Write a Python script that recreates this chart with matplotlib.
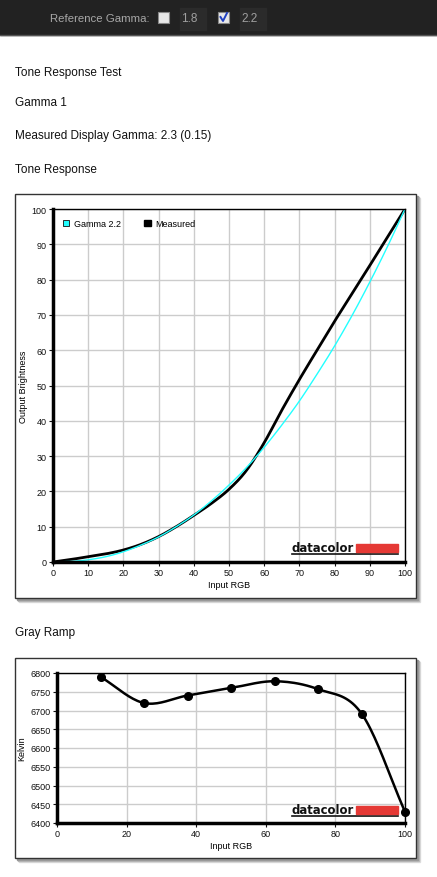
import numpy as np
import matplotlib
matplotlib.use("Agg")
import matplotlib.pyplot as plt
from matplotlib.patches import Rectangle, Patch
from matplotlib.lines import Line2D

W, H = 437, 878

# tone response data (input RGB %, output brightness %)
tone_x = [0, 5, 10, 15, 20, 25, 30, 35, 40, 45, 50,
          55, 60, 65, 70, 75, 80, 85, 90, 95, 100]
gamma22 = [0, 0.14, 0.63, 1.5, 2.9, 4.8, 7.1, 10.0, 13.3, 17.3, 21.8,
           26.8, 32.5, 38.8, 45.6, 53.2, 61.2, 69.9, 79.3, 89.3, 100]
measured = [0, 0.7, 1.5, 2.3, 3.4, 5.0, 7.2, 10.0, 13.2, 16.6, 20.6,
            26.0, 33.8, 43.0, 51.7, 60.0, 68.2, 76.1, 84.0, 92.0, 100]

# gray ramp data
ramp_x = [12.5, 25, 37.5, 50, 62.5, 75, 87.5, 100]
ramp_k = [6790, 6720, 6740, 6760, 6778, 6757, 6692, 6430]

tone_ticks = list(range(0, 101, 10))
ramp_xticks = list(range(0, 101, 20))
ramp_yticks = list(range(6400, 6801, 50))

plt.rcParams['font.family'] = ['Liberation Sans', 'DejaVu Sans']


def box(x0, y0, x1, y1):
    # pixel box -> figure fraction rect
    return [x0 / W, 1 - y1 / H, (x1 - x0) / W, (y1 - y0) / H]


def fx(x):
    return x / W


def fy(y):
    return 1 - y / H


def catmull(xs, ys, n=20):
    # smooth drawing path through the points
    xs = np.asarray(xs, float)
    ys = np.asarray(ys, float)
    px = np.concatenate([[2 * xs[0] - xs[1]], xs, [2 * xs[-1] - xs[-2]]])
    py = np.concatenate([[2 * ys[0] - ys[1]], ys, [2 * ys[-1] - ys[-2]]])
    ox, oy = [], []
    t = np.linspace(0, 1, n, endpoint=False)
    for i in range(1, len(px) - 2):
        for p, o in ((px, ox), (py, oy)):
            p0, p1, p2, p3 = p[i - 1], p[i], p[i + 1], p[i + 2]
            o.extend(0.5 * (2 * p1 + (-p0 + p2) * t
                            + (2 * p0 - 5 * p1 + 4 * p2 - p3) * t ** 2
                            + (-p0 + 3 * p1 - 3 * p2 + p3) * t ** 3))
    ox.append(xs[-1])
    oy.append(ys[-1])
    return np.array(ox), np.array(oy)


def logo(fig, x0, y0):
    # datacolor mark, x0/y0 = left / baseline in pixels
    fig.text(fx(x0), fy(y0), "datacolor", fontsize=8.4, fontweight='bold',
             family=['DejaVu Sans'], color='#111111', va='baseline', ha='left',
             zorder=5)
    fig.patches.append(Rectangle((fx(x0 + 64), fy(y0 + 0.5)), 42 / W, 8 / H,
                                 transform=fig.transFigure, color='#e53935', zorder=5))
    fig.lines.append(Line2D([fx(x0), fx(x0 + 106)], [fy(y0 + 2.5), fy(y0 + 2.5)],
                            transform=fig.transFigure, color='#111111', lw=1.2, zorder=5))


def frame(fig, x0, y0, x1, y1):
    for off, c in ((4, '#dddddd'), (3, '#bbbbbb'), (2, '#999999')):
        fig.patches.append(Rectangle((fx(x0 + off), fy(y1 + off)), (x1 - x0) / W,
                                     (y1 - y0) / H, transform=fig.transFigure,
                                     color=c, zorder=-3))
    fig.patches.append(Rectangle((fx(x0), fy(y1)), (x1 - x0) / W, (y1 - y0) / H,
                                 transform=fig.transFigure, facecolor='white',
                                 edgecolor='#333333', lw=1, zorder=-2))


def style_axes(ax):
    ax.grid(True, color='#cccccc', lw=1)
    ax.set_axisbelow(True)
    for s in ('top', 'right'):
        ax.spines[s].set_linewidth(1)
    for s in ('left', 'bottom'):
        ax.spines[s].set_linewidth(2.5)
    ax.tick_params(labelsize=6.5, length=3, width=0.8, pad=1.5, colors='#111111')


fig = plt.figure(figsize=(W / 100, H / 100), dpi=100)

# dark top bar
fig.patches.append(Rectangle((0, fy(36)), 1, 36 / H, transform=fig.transFigure,
                             color='#222222'))
fig.lines.append(Line2D([0, 1], [fy(36), fy(36)], transform=fig.transFigure,
                        color='#555555', lw=1))
fig.text(fx(150), fy(19), "Reference Gamma:", color='#a8a8a8', fontsize=8.2,
         ha='right', va='center')
for bx in (180, 240):
    fig.patches.append(Rectangle((fx(bx), fy(31)), 26 / W, 22 / H,
                                 transform=fig.transFigure, color='#2b2b2b'))
for cx in (158, 218):
    fig.patches.append(Rectangle((fx(cx), fy(24)), 11 / W, 11 / H,
                                 transform=fig.transFigure, facecolor='#e8e8e8',
                                 edgecolor='#888888', lw=0.8))
fig.lines.append(Line2D([fx(220.5), fx(223), fx(227)], [fy(18), fy(22), fy(14)],
                        transform=fig.transFigure, color='#2040c0', lw=1.4))
fig.text(fx(181), fy(19.5), "1.8", color='#a0a0a0', fontsize=8.5, va='center')
fig.text(fx(241), fy(19.5), "2.2", color='#a0a0a0', fontsize=8.5, va='center')

# headings
for txt, y in (("Tone Response Test", 73), ("Gamma 1", 103),
               ("Measured Display Gamma: 2.3 (0.15)", 136),
               ("Tone Response", 170), ("Gray Ramp", 633)):
    fig.text(fx(15), fy(y), txt, fontsize=8.5, va='center', color='#111111')

# tone response chart
frame(fig, 15, 195, 416, 599)
ax1 = fig.add_axes(box(53, 210, 405, 563))
mx, my = catmull(tone_x, measured)
gx, gy = catmull(tone_x, gamma22)
ax1.plot(mx, my, color='black', lw=2)
ax1.plot(gx, gy, color='#22ffff', lw=1)
ax1.set_xlim(0, 100)
ax1.set_ylim(0, 100)
ax1.set_xticks(tone_ticks)
ax1.set_yticks(tone_ticks)
style_axes(ax1)
ax1.set_xlabel("Input RGB", fontsize=6.5, labelpad=2)
ax1.set_ylabel("Output Brightness", fontsize=6.5, labelpad=3)
ax1.legend(handles=[Patch(facecolor='#22ffff', edgecolor='#111111', lw=0.6, label='Gamma 2.2'),
                    Patch(facecolor='black', edgecolor='black', label='Measured')],
           loc='upper left', ncol=2, frameon=False, fontsize=6.5,
           handlelength=0.7, handleheight=0.7, handletextpad=0.5,
           columnspacing=2.6, borderaxespad=0.7)
logo(fig, 292, 552)

# gray ramp chart
frame(fig, 15, 659, 416, 859)
ax2 = fig.add_axes(box(57, 674, 405, 824))
sx, sy = catmull(ramp_x, ramp_k)
ax2.plot(sx, sy, color='black', lw=1.8)
ax2.plot(ramp_x, ramp_k, 'o', color='black', ms=5.5, clip_on=False)
ax2.set_xlim(0, 100)
ax2.set_ylim(6400, 6800)
ax2.set_xticks(ramp_xticks)
ax2.set_yticks(ramp_yticks)
style_axes(ax2)
ax2.set_xlabel("Input RGB", fontsize=6.5, labelpad=2)
ax2.set_ylabel("Kelvin", fontsize=6.5, labelpad=3)
logo(fig, 292, 814)

fig.savefig("out.png", dpi=100)
